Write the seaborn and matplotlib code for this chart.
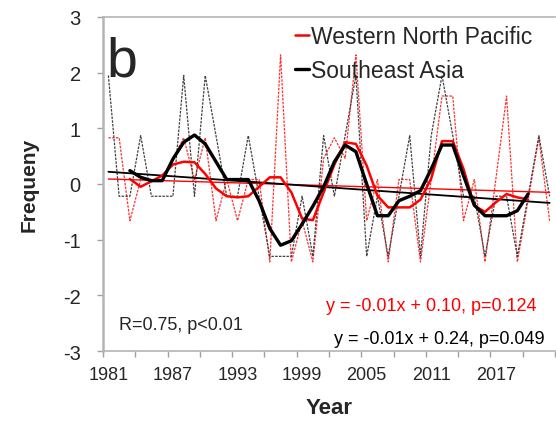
import seaborn as sns
import pandas as pd
import matplotlib.pyplot as plt

# annual standardized frequency (dotted) 1981-2022
years = list(range(1981, 2023))
wnp = [0.83, 0.83, -0.66, 0.08, 0.08, 0.08, 0.46, 0.83, 0.08, 0.83,
       -0.66, 0.08, -0.66, 0.08, 0.08, -1.40, 2.32, -1.40, -0.66, -1.40,
       0.46, 0.83, 0.46, 2.32, -0.66, 0.08, -1.40, 0.08, 0.08, -1.40,
       0.08, 1.58, 1.58, -0.66, 0.08, -1.40, 0.08, 1.58, -1.40, -0.29,
       0.83, -0.66]
sea = [1.95, -0.22, -0.22, 0.87, -0.22, -0.22, -0.22, 1.95, -0.22, 1.95,
       0.87, -0.22, -0.22, 0.87, -0.22, -1.30, -1.30, -1.30, -0.22, -1.30,
       0.87, -0.22, 0.87, 1.95, -1.30, -0.22, -1.30, -0.22, 0.87, -1.30,
       0.87, 1.95, 0.87, -0.22, -0.22, -1.30, -0.22, -0.22, -1.30, -0.22,
       0.87, -0.22]

# smoothed curves 1983-2020
smooth_years = list(range(1983, 2021))
wnp_smooth = [0.09, -0.05, 0.05, 0.15, 0.35, 0.40, 0.39, 0.18,
              -0.08, -0.22, -0.24, -0.22, -0.05, 0.12, 0.12, -0.15, -0.62, -0.65,
              -0.15, 0.35, 0.75, 0.72, 0.33, -0.21, -0.42, -0.42, -0.42, -0.28,
              0.10, 0.77, 0.77, 0.27, -0.39, -0.50, -0.33, -0.18, -0.24, -0.28]
sea_smooth = [0.24, 0.12, 0.06, 0.06, 0.45, 0.75, 0.88, 0.72,
              0.40, 0.08, 0.08, 0.08, -0.30, -0.80, -1.10, -1.02, -0.72, -0.40,
              -0.05, 0.40, 0.70, 0.58, 0.00, -0.57, -0.57, -0.30, -0.22, -0.12,
              0.27, 0.70, 0.70, 0.15, -0.38, -0.57, -0.57, -0.57, -0.48, -0.18]

# linear trends (end points)
trend_years = [1981, 2022]
wnp_trend = [0.09, -0.15]
sea_trend = [0.22, -0.34]

label_years = [1981, 1987, 1993, 1999, 2005, 2011, 2017]
y_ticks = [-3, -2, -1, 0, 1, 2, 3]

sns.set_style('white')
plt.rcParams['font.family'] = ['Liberation Sans', 'DejaVu Sans']
plt.rcParams['axes.unicode_minus'] = False

df = pd.DataFrame({'Year': years, 'wnp': wnp, 'sea': sea})
ds = pd.DataFrame({'Year': smooth_years, 'wnp': wnp_smooth, 'sea': sea_smooth})
dt = pd.DataFrame({'Year': trend_years, 'wnp': wnp_trend, 'sea': sea_trend})

fig = plt.figure(figsize=(5.56, 4.27), dpi=100)
ax = fig.add_axes([103 / 556, 1 - 352 / 427, 452 / 556, 334 / 427])

sns.lineplot(data=df, x='Year', y='wnp', ax=ax, color='#ff3030', lw=0.9,
             linestyle=(0, (2, 1)))
sns.lineplot(data=df, x='Year', y='sea', ax=ax, color='#404040', lw=0.9,
             linestyle=(0, (2, 1)))
sns.lineplot(data=dt, x='Year', y='wnp', ax=ax, color='#ff0000', lw=1.0)
sns.lineplot(data=dt, x='Year', y='sea', ax=ax, color='black', lw=1.3)
sns.lineplot(data=ds, x='Year', y='wnp', ax=ax, color='#ff0000', lw=1.8,
             label='Western North Pacific')
sns.lineplot(data=ds, x='Year', y='sea', ax=ax, color='black', lw=2.4,
             label='Southeast Asia')

ax.set_xlim(1980.5, 2022.5)
ax.set_ylim(-3, 3)
ax.set_xticks(label_years)
ax.set_xticks([1980.5 + 3 * i for i in range(15)], minor=True)
ax.set_yticks(y_ticks)
ax.tick_params(axis='x', which='major', length=0, pad=11, labelsize=13)
ax.tick_params(axis='x', which='minor', length=4, width=1, color='#a0a0a0',
               direction='out', bottom=True)
ax.tick_params(axis='y', length=4, width=1, color='#a0a0a0', direction='out',
               left=True, pad=12, labelsize=14.5)

for side in ['top', 'bottom', 'left']:
    ax.spines[side].set_color('#b4b4b4')
    ax.spines[side].set_linewidth(1.2)
ax.spines['left'].set_linewidth(1.8)
ax.spines['right'].set_visible(False)

ax.set_xlabel('Year', fontsize=16, fontweight='bold')
ax.set_ylabel('Frequeny', fontsize=15, fontweight='bold')
ax.xaxis.set_label_coords(0.5, -0.168)
ax.xaxis.label.set_va('center')
ax.yaxis.set_label_coords(-0.163, 0.5)
ax.yaxis.label.set_va('center')

leg = ax.legend(loc='upper left', bbox_to_anchor=(0.425, 0.975), frameon=False,
                fontsize=16.5, handlelength=0.6, handletextpad=0.1,
                labelspacing=0.45, borderpad=0, borderaxespad=0)

ax.text(0.008, 0.945, 'b', transform=ax.transAxes, fontsize=40, va='top',
        ha='left')
ax.text(0.035, 0.078, 'R=0.75, p<0.01', transform=ax.transAxes, fontsize=13,
        va='center', ha='left')
ax.text(0.96, 0.135, 'y = -0.01x + 0.10, p=0.124', transform=ax.transAxes,
        fontsize=13, va='center', ha='right', color='#ff0000')
ax.text(0.976, 0.036, 'y = -0.01x + 0.24, p=0.049', transform=ax.transAxes,
        fontsize=13, va='center', ha='right', color='black')

fig.savefig('out.png', dpi=100)
